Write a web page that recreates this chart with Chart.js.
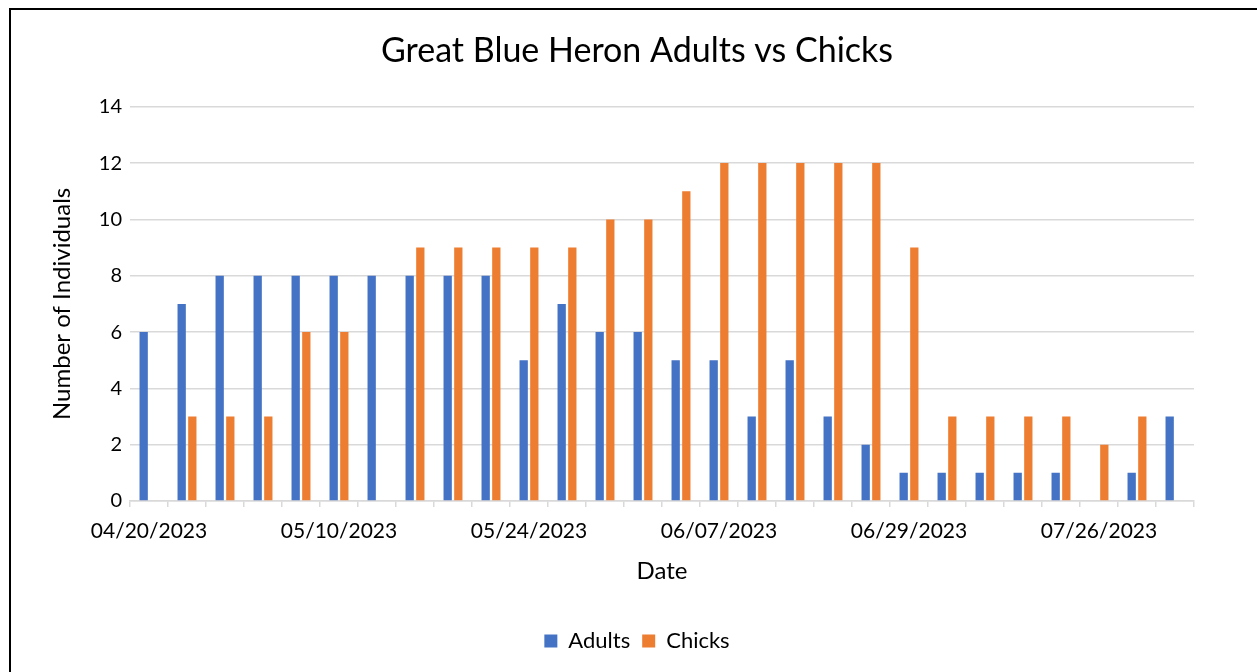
<!DOCTYPE html>
<html>
<head>
<meta charset="utf-8">
<script src="https://cdn.jsdelivr.net/npm/chart.js@4.4.0/dist/chart.umd.min.js"></script>
<style>
  html, body { margin: 0; padding: 0; background: #fff; overflow: hidden; }
  #wrap { position: relative; width: 1257px; height: 672px; }
  #frame { position: absolute; left: 9px; top: 8px; width: 1400px; height: 800px;
           border-left: 2px solid #000; border-top: 2px solid #000; box-sizing: border-box; pointer-events: none; }
  canvas { position: absolute; left: 0; top: 0; }
</style>
</head>
<body>
<div id="wrap">
  <canvas id="c" width="1257" height="672"></canvas>
  <div id="frame"></div>
</div>
<script>
// Category (date) labels: only the labels that are shown in the picture are known
const categories = [
  '04/20/2023', '', '', '', '',
  '05/10/2023', '', '', '', '',
  '05/24/2023', '', '', '', '',
  '06/07/2023', '', '', '', '',
  '06/29/2023', '', '', '', '',
  '07/26/2023', '', ''
];
const adults = [6, 7, 8, 8, 8, 8, 8, 8, 8, 8, 5, 7, 6, 6, 5, 5, 3, 5, 3, 2, 1, 1, 1, 1, 1, 0, 1, 3];
const chicks = [0, 3, 3, 3, 6, 6, 0, 9, 9, 9, 9, 9, 10, 10, 11, 12, 12, 12, 12, 12, 9, 3, 3, 3, 3, 2, 3, 0];
const yTicks = [0, 2, 4, 6, 8, 10, 12, 14];

const FONT = 'Lato, "Open Sans", sans-serif';
const GRID = '#d9d9d9';

new Chart(document.getElementById('c'), {
  type: 'bar',
  data: {
    labels: categories,
    datasets: [
      { label: 'Adults', data: adults, backgroundColor: '#4472C4', borderWidth: 0,
        categoryPercentage: 0.56, barPercentage: 0.78 },
      { label: 'Chicks', data: chicks, backgroundColor: '#ED7D31', borderWidth: 0,
        categoryPercentage: 0.56, barPercentage: 0.78 }
    ]
  },
  options: {
    responsive: false,
    animation: false,
    devicePixelRatio: 1,
    layout: { padding: { left: 80, right: 63, top: 0, bottom: 10 } },
    plugins: {
      title: {
        display: true,
        text: 'Great Blue Heron Adults vs Chicks',
        color: '#000',
        font: { family: FONT, size: 34, weight: 'normal' },
        padding: { top: 31, bottom: 35 }
      },
      legend: {
        position: 'bottom',
        labels: {
          color: '#000',
          font: { family: FONT, size: 22 },
          boxWidth: 13, boxHeight: 13, padding: 12
        }
      },
      tooltip: { enabled: false }
    },
    scales: {
      x: {
        offset: true,
        border: { display: true, color: GRID, width: 1.5 },
        grid: { offset: true, drawOnChartArea: false, drawTicks: true, tickLength: 6, color: GRID, lineWidth: 1.5 },
        ticks: {
          autoSkip: false, maxRotation: 0, minRotation: 0, padding: 12,
          color: '#000', font: { family: FONT, size: 21 },
          callback: function(v, i) { return categories[i]; }
        },
        title: { display: true, text: 'Date', color: '#000', font: { family: FONT, size: 24 }, padding: { top: 1, bottom: 32 } }
      },
      y: {
        min: 0, max: 14,
        afterFit: function(s) { s.width = 50; },
        afterBuildTicks: function(s) { s.ticks = yTicks.map(v => ({ value: v })); },
        border: { display: false },
        grid: { color: GRID, lineWidth: 1.5, drawTicks: false },
        ticks: { padding: 8, color: '#000', font: { family: FONT, size: 20 } },
        title: { display: true, text: 'Number of Individuals', color: '#000', font: { family: FONT, size: 24 }, padding: { top: -32, bottom: 0 } }
      }
    }
  }
});
</script>
</body>
</html>
